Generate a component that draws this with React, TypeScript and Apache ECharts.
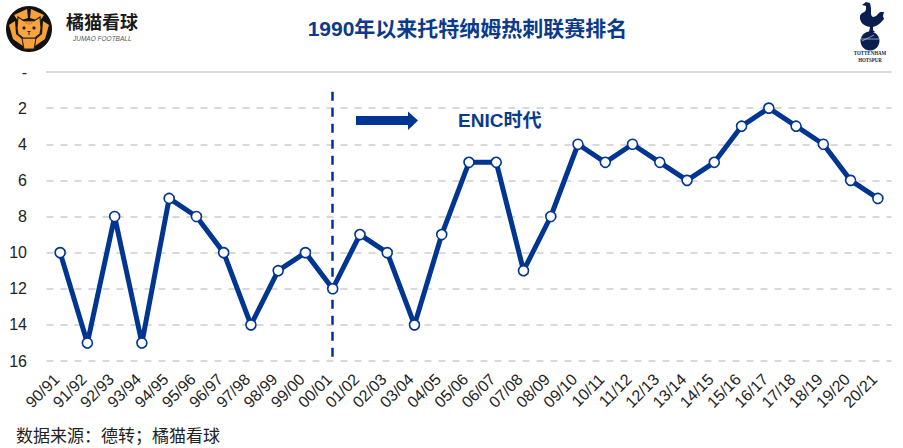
import React, { useEffect, useRef } from "react";
import * as echarts from "echarts";

const seasons = ["90/91","91/92","92/93","93/94","94/95","95/96","96/97","97/98","98/99","99/00","00/01","01/02","02/03","03/04","04/05","05/06","06/07","07/08","08/09","09/10","10/11","11/12","12/13","13/14","14/15","15/16","16/17","17/18","18/19","19/20","20/21"];
const positions = [10,15,8,15,7,8,10,14,11,10,12,9,10,14,9,5,5,11,8,4,5,4,5,6,5,3,2,3,4,6,7];
const enicStart = "00/01";
const titleText = "1990年以来托特纳姆热刺联赛排名";
const sourceText = "数据来源：德转；橘猫看球";
const FONT = '"Liberation Sans", "Noto Sans CJK SC", sans-serif';
const BLUE = "#003591";
const NAVY = "#0a1f4f";
const ORANGE = "#f7a139";

const rooster = "M862 5 L866 2 L870 3 L871 8 L871 14 C872 18 874 17 876 16 L880 12 L884 12 L883 16 L884 19 C881 23 877 26 873 27 L873 30 L875 32 L869 32 L870 27 C864 26 859 22 860 16 C861 12 866 13 866 9 L866 6 Z";
echarts.graphic.registerShape("roosterLogo", echarts.graphic.extendPath(rooster as any, {} as any) as any);

const catParts = [
  [[14,15],[27,9],[28,18],[18,21]],
  [[44,15],[31,9],[30,18],[40,21]],
  [[9,25],[15,21],[16,34],[22,39],[23,46],[13,39]],
  [[49,25],[43,21],[42,34],[36,39],[35,46],[45,39]],
];

export default function App() {
  const ref = useRef<HTMLDivElement>(null);
  useEffect(() => {
    const chart = echarts.init(ref.current!, undefined, { renderer: "svg" });
    chart.setOption({
      animation: false,
      backgroundColor: "#fff",
      textStyle: { fontFamily: FONT },
      grid: { left: 46.5, right: 11.5, top: 72, bottom: 87 },
      title: {
        text: titleText,
        left: 462.5,
        top: 13,
        textAlign: "center",
        textStyle: { fontFamily: FONT, fontSize: 21, fontWeight: "bold", color: "#0b3a8c" },
      },
      xAxis: {
        type: "category",
        data: seasons,
        boundaryGap: true,
        axisLine: { show: false },
        axisTick: { show: false },
        axisLabel: { rotate: 45, interval: 0, fontSize: 16, color: "#222", margin: 12, padding: [0, 5, 0, 0], fontFamily: FONT },
      },
      yAxis: {
        type: "value",
        inverse: true,
        min: 0,
        max: 16,
        interval: 2,
        axisLine: { show: false },
        axisTick: { show: false },
        axisLabel: {
          fontSize: 16,
          color: "#222",
          margin: 19.5,
          fontFamily: FONT,
          formatter: (v: number) => (v === 0 ? "-" : String(v)),
        },
        splitLine: { show: true, lineStyle: { color: "#d9d9d9", width: 2, type: [7, 7] } },
      },
      series: [
        {
          type: "line",
          data: positions,
          symbol: "circle",
          symbolSize: 10,
          showAllSymbols: true,
          showSymbol: true,
          lineStyle: { color: BLUE, width: 5 },
          itemStyle: { color: "#fff", borderColor: BLUE, borderWidth: 1.6 },
          z: 5,
          markLine: {
            silent: true,
            symbol: "none",
            label: { show: false },
            lineStyle: { color: BLUE, width: 2.5, type: [9, 7] },
            data: [[{ xAxis: enicStart, yAxis: 1.1 }, { xAxis: enicStart, yAxis: 16 }]],
          },
        },
      ],
      graphic: [
        { type: "line", z: 1, shape: { x1: 46, y1: 72, x2: 891, y2: 72 }, style: { stroke: "#d9d9d9", lineWidth: 2 } },
        { type: "polygon", z: 6, shape: { points: [[356,116],[408,116],[408,111.5],[418,120.5],[408,130],[408,125],[356,125]] }, style: { fill: BLUE } },
        { type: "text", z: 6, x: 458, y: 111, style: { text: "ENIC时代", font: `bold 19px ${FONT}`, fill: "#0b3a8c" } },
        { type: "text", z: 6, x: 16, y: 427.5, style: { text: sourceText, font: `17px ${FONT}`, fill: "#222" } },
        // Jumao logo
        { type: "circle", shape: { cx: 29, cy: 29, r: 23 }, style: { fill: "#111" } },
        ...catParts.map((points) => ({ type: "polygon", shape: { points }, style: { fill: ORANGE } })),
        { type: "polygon", shape: { points: [[22,38],[36,38],[34,49],[24,49]] }, style: { fill: ORANGE, stroke: "#222", lineWidth: 1 } },
        { type: "polygon", shape: { points: [[17,28],[18,17],[24,21],[34,21],[40,17],[41,28],[40,34],[35,38],[23,38],[18,34]] }, style: { fill: "#f9a63f", stroke: "#222", lineWidth: 1.2 } },
        { type: "line", shape: { x1: 29, y1: 21, x2: 29, y2: 25 }, style: { stroke: "#e8742a", lineWidth: 1.2 } },
        { type: "line", shape: { x1: 26, y1: 21, x2: 26.5, y2: 24 }, style: { stroke: "#e8742a", lineWidth: 1.2 } },
        { type: "line", shape: { x1: 32, y1: 21, x2: 31.5, y2: 24 }, style: { stroke: "#e8742a", lineWidth: 1.2 } },
        { type: "circle", shape: { cx: 24, cy: 28, r: 1.6 }, style: { fill: "#223" } },
        { type: "circle", shape: { cx: 34, cy: 28, r: 1.6 }, style: { fill: "#223" } },
        { type: "polygon", shape: { points: [[27,31],[31,31],[29,33]] }, style: { fill: "#222" } },
        { type: "line", shape: { x1: 29, y1: 33, x2: 29, y2: 35 }, style: { stroke: "#222", lineWidth: 1 } },
        { type: "text", x: 66, y: 12, style: { text: "橘猫看球", font: `bold 18px "Noto Sans CJK SC", sans-serif`, fill: "#1a1a1a" } },
        { type: "text", x: 73, y: 35, style: { text: "JUMAO FOOTBALL", font: `italic 6.5px ${FONT}`, fill: "#555" } },
        // Spurs crest
        { type: "roosterLogo", style: { fill: NAVY } },
        { type: "circle", shape: { cx: 870, cy: 41, r: 9.5 }, style: { fill: NAVY } },
        { type: "line", shape: { x1: 861, y1: 39, x2: 879, y2: 39 }, style: { stroke: "#c8d0e0", lineWidth: 0.7 } },
        { type: "line", shape: { x1: 862, y1: 41, x2: 874, y2: 35 }, style: { stroke: "#c8d0e0", lineWidth: 0.7 } },
        { type: "text", x: 870, y: 50, scaleX: 0.82, style: { text: "TOTTENHAM", align: "center", font: `bold 6px "Liberation Serif", serif`, fill: NAVY } },
        { type: "text", x: 870, y: 57, scaleX: 0.82, style: { text: "HOTSPUR", align: "center", font: `bold 6px "Liberation Serif", serif`, fill: NAVY } },
      ],
    });
    return () => chart.dispose();
  }, []);
  return <div ref={ref} style={{ position: "fixed", left: 0, top: 0, width: 903, height: 448 }} />;
}
